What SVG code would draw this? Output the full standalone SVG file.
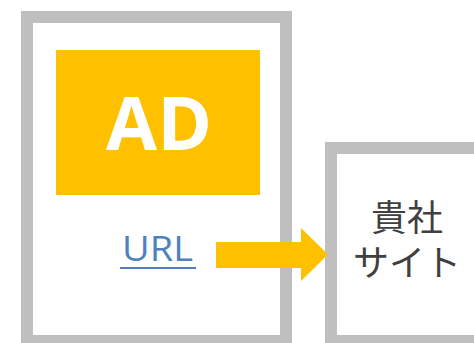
<svg xmlns="http://www.w3.org/2000/svg" width="474" height="343" viewBox="0 0 474 343">
<style>
.frame{fill:#ffffff;stroke:#bfbfbf;stroke-width:12}
.ad{font-family:"Open Sans","Liberation Sans",sans-serif;font-weight:bold;font-size:74px;fill:#ffffff}
.url{font-family:"Open Sans","Liberation Sans",sans-serif;font-size:34px;fill:#4f81bd}
.jp{font-family:"Noto Sans CJK JP",sans-serif;font-size:36px;fill:#404040}
</style>
<rect width="474" height="343" fill="#ffffff"/>
<g id="page">
<rect class="frame" x="27" y="17" width="259" height="324"/>
</g>
<g id="ad">
<rect x="56" y="50" width="204" height="145" fill="#ffc000"/>
<text class="ad" x="159" y="150" text-anchor="middle">AD</text>
</g>
<g id="url">
<text class="url" x="122" y="261" textLength="71" lengthAdjust="spacingAndGlyphs">URL</text>
<rect x="120" y="267" width="76" height="2" fill="#4f81bd"/>
</g>
<g id="site">
<rect class="frame" x="331" y="148" width="160" height="193"/>
<text class="jp" text-anchor="middle"><tspan x="407" y="231">貴社</tspan><tspan x="407" y="276">サイト</tspan></text>
</g>
<g id="connectors">
<polygon points="216,242 301,242 301,228 328,254.5 301,281 301,268 216,268" fill="#ffc000"/>
</g>
</svg>
